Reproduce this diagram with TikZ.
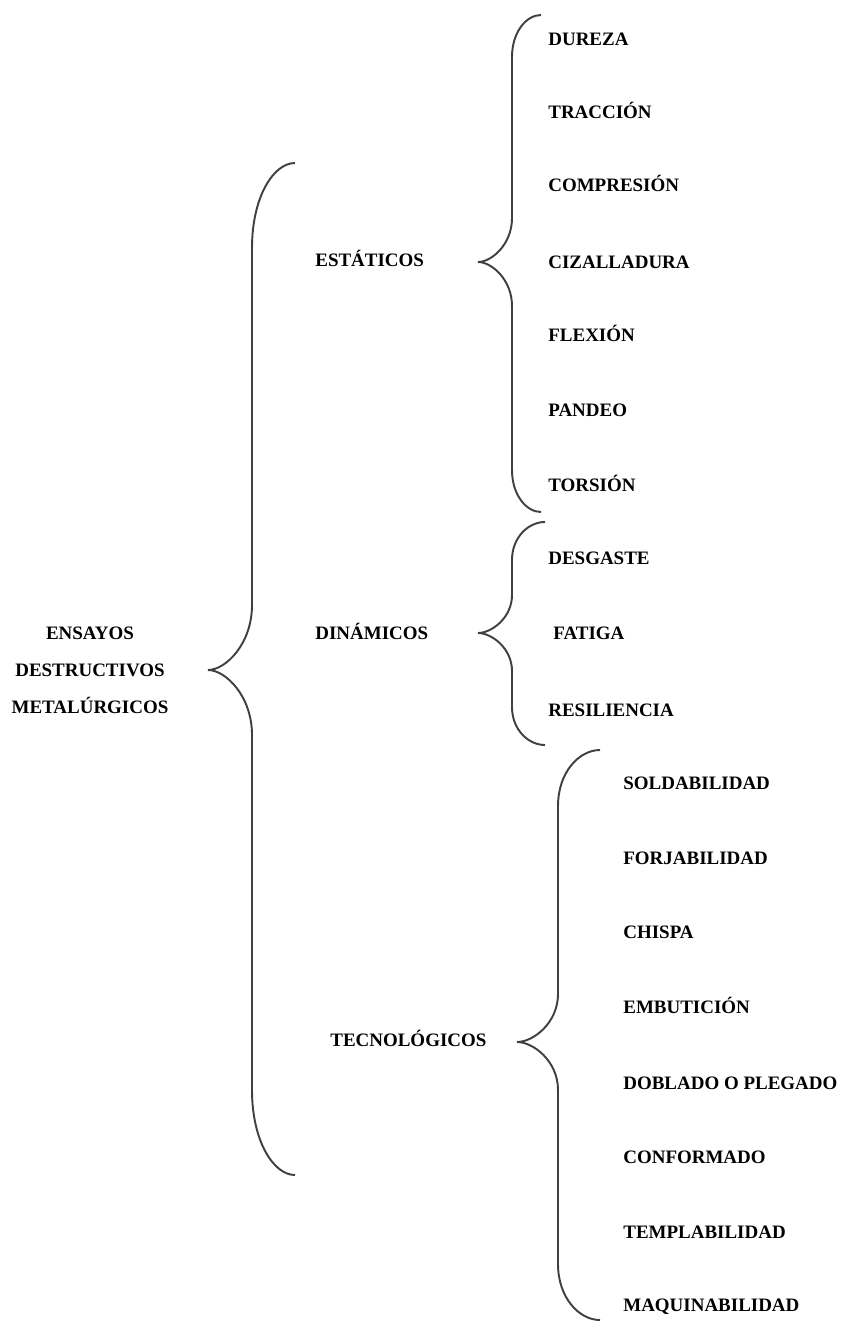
\documentclass[tikz,border=0pt]{standalone}
\usepackage{fontspec}
\setmainfont{Liberation Serif}
\usepackage{tikz}

\tikzset{
  rotulo/.style={font=\fontsize{10.8}{21}\selectfont\bfseries, inner sep=0pt},
  hoja/.style={rotulo, anchor=base west},
  llave/.style={line width=1.1pt, black!75}
}
% llave: x extremo, x vertical, x punta, y arriba, y punta, y abajo, radio extremo, radio punta
\newcommand{\llave}[8]{%
  \draw[llave] (#1,#4) .. controls ({#2+0.5*(#1-#2)},#4) and (#2,{#4+0.4*#7}) .. (#2,{#4+#7})
    -- (#2,{#5-#8}) .. controls (#2,{#5-0.4*#8}) and ({#3+0.4*(#2-#3)},#5) .. (#3,#5)
    .. controls ({#3+0.4*(#2-#3)},#5) and (#2,{#5+0.4*#8}) .. (#2,{#5+#8})
    -- (#2,{#6-#7}) .. controls (#2,{#6-0.4*#7}) and ({#2+0.5*(#1-#2)},#6) .. (#1,#6);}

\begin{document}
\begin{tikzpicture}[x=0.02cm,y=-0.02cm]
  \useasboundingbox (0,0) rectangle (843,1328);

  % raiz
  \node[rotulo, align=center] (raiz) at (90,670) {ENSAYOS\\DESTRUCTIVOS\\METALÚRGICOS};
  \llave{295}{252}{208}{163}{670}{1175}{85}{65}

  % grupos
  \node[hoja] (estaticos) at (315,266) {ESTÁTICOS};
  \node[hoja] (dinamicos) at (315,639) {DINÁMICOS};
  \node[hoja] (tecno) at (330,1046) {TECNOLÓGICOS};

  % estaticos
  \llave{541}{512}{478}{15}{262}{512}{42}{44}
  \node[hoja] (dureza) at (548,46) {DUREZA};
  \node[hoja] (traccion) at (548,118) {TRACCIÓN};
  \node[hoja] (compresion) at (548,191) {COMPRESIÓN};
  \node[hoja] (cizalladura) at (548,268) {CIZALLADURA};
  \node[hoja] (flexion) at (548,341) {FLEXIÓN};
  \node[hoja] (pandeo) at (548,416) {PANDEO};
  \node[hoja] (torsion) at (548,491) {TORSIÓN};

  % dinamicos
  \llave{545}{512}{478}{522}{633}{745}{38}{38}
  \node[hoja] (desgaste) at (548,564) {DESGASTE};
  \node[hoja] (fatiga) at (553,639) {FATIGA};
  \node[hoja] (resiliencia) at (548,716) {RESILIENCIA};

  % tecnologicos
  \llave{600}{558}{517}{750}{1042}{1320}{56}{48}
  \node[hoja] (soldabilidad) at (623,789) {SOLDABILIDAD};
  \node[hoja] (forjabilidad) at (623,864) {FORJABILIDAD};
  \node[hoja] (chispa) at (623,938) {CHISPA};
  \node[hoja] (embuticion) at (623,1013) {EMBUTICIÓN};
  \node[hoja] (doblado) at (623,1089) {DOBLADO O PLEGADO};
  \node[hoja] (conformado) at (623,1163) {CONFORMADO};
  \node[hoja] (templabilidad) at (623,1238) {TEMPLABILIDAD};
  \node[hoja] (maquinabilidad) at (623,1311) {MAQUINABILIDAD};
\end{tikzpicture}
\end{document}
